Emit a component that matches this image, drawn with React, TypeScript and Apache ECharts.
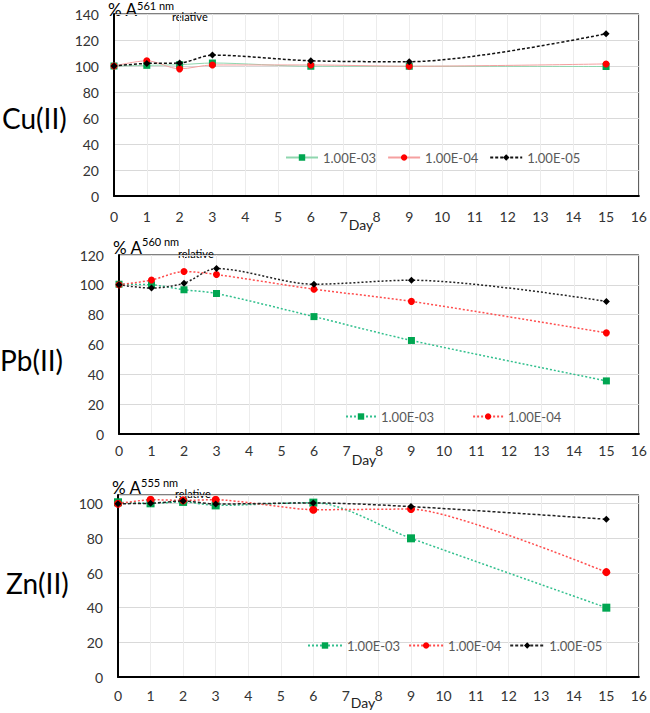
import React, { useEffect, useRef } from "react";
import * as echarts from "echarts";

const days = [0, 1, 2, 3, 6, 9, 15];
const xTicks = { min: 0, max: 16, interval: 1 };

const cuE3 = [100, 100.5, 101, 102.3, 99.8, 99.8, 99.6];
const cuE4 = [100, 104, 97.8, 100.8, 100.8, 99.8, 101.6];
const cuE5 = [100, 102, 102.3, 108.4, 104, 103.3, 124.8];

const pbE3 = [100.4, 100, 96.7, 94.2, 78.7, 62.7, 35.6];
const pbE4 = [100, 103.2, 108.9, 106.9, 97.1, 88.9, 67.8];
const pbE5 = [100, 97.8, 101.1, 110.9, 100.4, 103.1, 88.9];

const znE3 = [100.8, 100.2, 101, 99, 100.6, 80, 40];
const znE4 = [100, 102.3, 101.9, 102.3, 96.5, 96.9, 60.5];
const znE5 = [100, 100.2, 101.5, 99.8, 100.4, 98.3, 91];

const seriesNames = ["1.00E-03", "1.00E-04", "1.00E-05"];
const panelLabels = ["Cu(II)", "Pb(II)", "Zn(II)"];
const wavelengths = ["561 nm", "560 nm", "555 nm"];
const xAxisTitle = "Day";
const yMax = [140, 120, 105];

const FONT = "Lato, 'Open Sans', sans-serif";

export default function App() {
  const ref = useRef<HTMLDivElement>(null);
  useEffect(() => {
    if (!ref.current) return;
    const chart = echarts.init(ref.current, undefined, { renderer: "svg" });

    const grids = [
      { left: 114, top: 14, width: 526, height: 182 },
      { left: 119, top: 255, width: 522, height: 179 },
      { left: 118, top: 495, width: 523, height: 182 },
    ];
    const labelMargins = [13, 9, 11];

    const xAxes = grids.map((_, i) => ({
      type: "value",
      gridIndex: i,
      ...xTicks,
      axisLine: { show: true, lineStyle: { color: "#000", width: 2 } },
      axisTick: { show: false },
      axisLabel: { fontSize: 14, color: "#333", fontFamily: FONT, margin: labelMargins[i] },
      splitLine: { show: true, lineStyle: { color: "#ececec", width: 1 } },
    }));

    const yAxes = grids.map((_, i) => ({
      type: "value",
      gridIndex: i,
      min: 0,
      max: yMax[i],
      interval: 20,
      axisLine: { show: true, lineStyle: { color: "#000", width: 2 } },
      axisTick: { show: false },
      axisLabel: { fontSize: 14, color: "#333", fontFamily: FONT, margin: 15, showMaxLabel: i === 2 ? false : true },
      splitLine: { show: true, lineStyle: { color: "#d9d9d9", width: 1 } },
    }));

    const toData = (vals: number[]) => days.map((d, k) => [d, vals[k]]);

    const mk = (
      g: number,
      prefix: string,
      idx: number,
      vals: number[],
      lineColor: string,
      lineType: any,
      lineWidth: number,
      size: number,
      smooth = 0.3
    ) => {
      const symbols = ["rect", "circle", "diamond"];
      const markerColors = ["#00a651", "#ff0000", "#000000"];
      return {
        type: "line",
        name: prefix + "|" + seriesNames[idx],
        xAxisIndex: g,
        yAxisIndex: g,
        data: toData(vals),
        smooth,
        symbol: symbols[idx],
        symbolSize: size,
        showSymbol: true,
        itemStyle: { color: markerColors[idx] },
        lineStyle: { color: lineColor, type: lineType, width: lineWidth },
        z: 3 + (idx === 2 ? 1 : 0),
      };
    };

    const series = [
      mk(0, "Cu", 0, cuE3, "#8fd6ae", "solid", 1, 7),
      mk(0, "Cu", 1, cuE4, "#f5a0a0", "solid", 1, 7),
      mk(0, "Cu", 2, cuE5, "#111111", [3, 2], 1.5, 7),
      mk(1, "Pb", 0, pbE3, "#33c08e", [2, 2], 1.5, 7),
      mk(1, "Pb", 1, pbE4, "#ff4d4d", [2, 2], 1.5, 7),
      mk(1, "Pb", 2, pbE5, "#222222", [2, 2], 1.5, 7),
      mk(2, "Zn", 0, znE3, "#33c08e", [2, 2], 1.5, 8),
      mk(2, "Zn", 1, znE4, "#ff4d4d", [2, 2], 1.5, 8, 0.2),
      mk(2, "Zn", 2, znE5, "#222222", [3, 2], 1.5, 7),
    ];

    const legendBase = {
      orient: "horizontal",
      itemHeight: 8,
      textStyle: { fontSize: 13, color: "#595959", fontFamily: FONT },
      formatter: (n: string) => n.split("|")[1],
      selectedMode: false,
    };
    const legend = [
      { ...legendBase, data: seriesNames.map((s) => "Cu|" + s), left: 280, top: 146, itemWidth: 32, itemGap: 11 },
      { ...legendBase, data: seriesNames.slice(0, 2).map((s) => "Pb|" + s), left: 340, top: 405, itemWidth: 30, itemGap: 38 },
      { ...legendBase, data: seriesNames.map((s) => "Zn|" + s), left: 302, top: 634, itemWidth: 34, itemGap: 8 },
    ];

    const titlePos = [
      { x: 108, y: 9, sy: 5, rx: 172, ry: 16 },
      { x: 113, y: 247, sy: 241, rx: 178, ry: 253 },
      { x: 112, y: 487, sy: 482, rx: 175, ry: 493 },
    ];
    const panelPos = [
      { x: 2, y: 118 },
      { x: 0, y: 360 },
      { x: 6, y: 583 },
    ];
    const dayPos = [
      { x: 361, y: 224 },
      { x: 364, y: 459 },
      { x: 363, y: 702 },
    ];

    const graphic: any[] = [];
    titlePos.forEach((p, i) => {
      graphic.push({
        type: "text",
        x: p.x,
        y: p.y,
        style: { text: "% A", fontSize: 17, fontFamily: FONT, fill: "#000", verticalAlign: "middle", align: "left" },
      });
      graphic.push({
        type: "text",
        x: p.x + 29,
        y: p.sy,
        style: { text: wavelengths[i], fontSize: 11, fontFamily: FONT, fill: "#000", verticalAlign: "middle", align: "left" },
      });
      graphic.push({
        type: "text",
        x: p.rx,
        y: p.ry,
        style: { text: "relative", fontSize: 11, fontFamily: FONT, fill: "#000", verticalAlign: "middle", align: "left" },
      });
      graphic.push({
        type: "text",
        x: panelPos[i].x,
        y: panelPos[i].y,
        style: { text: panelLabels[i], fontSize: 28, fontFamily: FONT, fill: "#000", verticalAlign: "middle", align: "left" },
      });
      graphic.push({
        type: "text",
        x: dayPos[i].x,
        y: dayPos[i].y,
        style: { text: xAxisTitle, fontSize: 14, fontFamily: FONT, fill: "#222", verticalAlign: "middle", align: "center" },
      });
    });

    chart.setOption({
      animation: false,
      backgroundColor: "#fff",
      grid: grids.map((g) => ({ ...g, show: true, borderColor: "#000", borderWidth: 1, backgroundColor: "transparent" })),
      xAxis: xAxes,
      yAxis: yAxes,
      legend,
      series,
      graphic,
    });
    return () => chart.dispose();
  }, []);

  return <div ref={ref} style={{ position: "absolute", left: 0, top: 0, width: 650, height: 713 }} />;
}
